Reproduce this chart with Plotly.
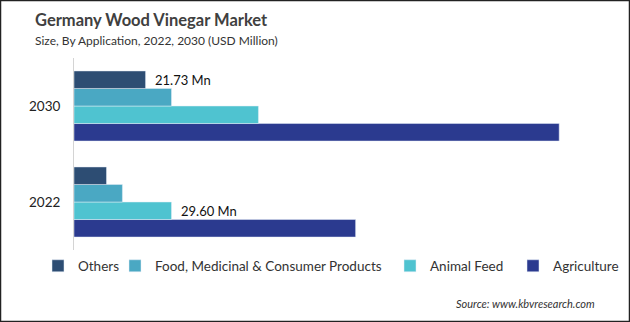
import plotly.graph_objects as go

years = ["2022", "2030"]
series_names = ["Others", "Food, Medicinal & Consumer Products", "Animal Feed", "Agriculture"]
others = [9.87, 21.73]
food = [14.7, 29.6]
animal_feed = [29.60, 56.0]
agriculture = [85.5, 147.3]
colors = ["#2d4d73", "#4aa8c3", "#4fc3d0", "#2b3a8f"]
labels = [("Others", "2030"), ("Animal Feed", "2022")]

values = {"Others": others, "Food, Medicinal & Consumer Products": food,
          "Animal Feed": animal_feed, "Agriculture": agriculture}
legend_widths = {"Others": 32, "Food, Medicinal & Consumer Products": 230, "Animal Feed": 78, "Agriculture": 70}

W, H = 630, 322
L, R, T, B = 74, 30, 58, 72
pw, ph = W - L - R, H - T - B

fig = go.Figure()
for name, col in reversed(list(zip(series_names, colors))):
    fig.add_trace(go.Bar(y=years, x=values[name], name=name, orientation="h",
                         legendwidth=legend_widths[name],
                         marker=dict(color=col)))

annotations = []
for name, yr in labels:
    v = values[name][years.index(yr)]
    idx = series_names.index(name)
    annotations.append(dict(x=v, y=years.index(yr), xref="x", yref="y", text=f"{v:.2f} Mn",
                            showarrow=False, xanchor="left", xshift=7,
                            yshift=(1.5 - idx) * 17.5,
                            font=dict(family="Lato", size=13, color="#111")))

annotations += [
    dict(x=33 / W, y=1 - 20 / H, xref="paper", yref="paper", text="<b>Germany Wood Vinegar Market</b>",
         showarrow=False, xanchor="left", yanchor="middle",
         font=dict(family="Lato", size=16.5, color="#404040")),
    dict(x=33 / W, y=1 - 41 / H, xref="paper", yref="paper", text="Size, By Application, 2022, 2030 (USD Million)",
         showarrow=False, xanchor="left", yanchor="middle",
         font=dict(family="Lato", size=12, color="#333")),
    dict(x=597 / W, y=1 - 303 / H, xref="paper", yref="paper", text="<i>Source: www.kbvresearch.com</i>",
         showarrow=False, xanchor="right", yanchor="middle",
         font=dict(family="Lato", size=11, color="#333")),
]
for a in annotations[-3:]:
    a["x"] = (a["x"] * W - L) / pw
    a["y"] = ((a["y"] * H) - B) / ph

fig.update_layout(
    width=W, height=H,
    margin=dict(l=L, r=R, t=T, b=B),
    paper_bgcolor="white", plot_bgcolor="white",
    barmode="group", bargap=0.27, bargroupgap=0,
    xaxis=dict(range=[0, pw * 0.3036], visible=False),
    yaxis=dict(type="category", range=[-0.5, 1.5], showline=True,
               linecolor="#d4d4d4", linewidth=1, showgrid=False,
               ticks="outside", ticklen=10, tickcolor="rgba(0,0,0,0)",
               tickfont=dict(family="Lato", size=13.5, color="#222"), zeroline=False),
    legend=dict(orientation="h", traceorder="reversed", x=(38 - L) / pw, y=((H - 266) - B) / ph,
                xanchor="left", yanchor="middle", font=dict(family="Lato", size=13.5, color="#333"),
                itemwidth=30, bgcolor="rgba(0,0,0,0)"),
    annotations=annotations,
    shapes=[dict(type="rect", xref="paper", yref="paper",
                 x0=(0.5 - L) / pw, x1=(W - 0.5 - L) / pw,
                 y0=(0.5 - B) / ph, y1=(H - 0.5 - B) / ph,
                 line=dict(color="#222", width=1.5))],
    showlegend=True,
)
fig.write_html("out.html")
